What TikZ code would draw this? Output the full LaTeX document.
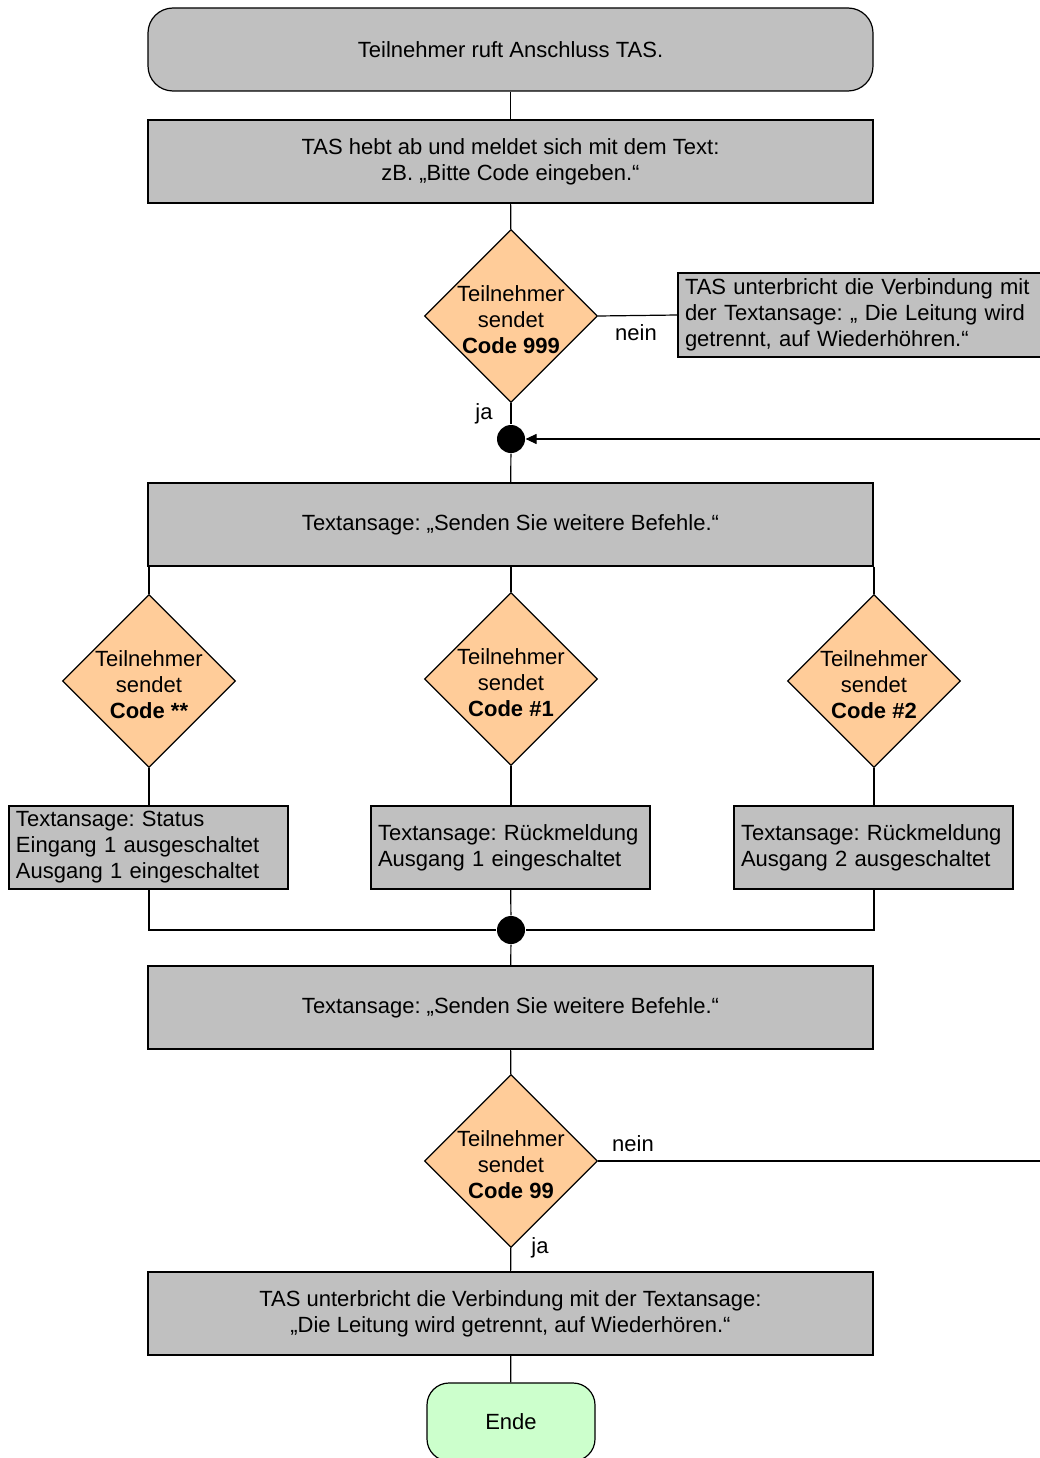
\documentclass[tikz,border=0pt]{standalone}
\usepackage{fontspec}
\setmainfont{Liberation Sans}
\usetikzlibrary{shapes.geometric,arrows.meta}
\definecolor{boxgray}{HTML}{C0C0C0}
\definecolor{dorange}{HTML}{FFCC99}
\definecolor{endgreen}{HTML}{CCFFCC}
\frenchspacing
\begin{document}
\begin{tikzpicture}[x=1pt,y=-1pt,
  font=\fontsize{22}{26}\selectfont\frenchspacing, line width=1.2pt,
  box/.style={draw, fill=boxgray, minimum width=725pt, minimum height=83pt, inner sep=0pt, align=center},
  sbox/.style={draw, fill=boxgray, text width=265pt, inner xsep=7pt, inner ysep=0pt, minimum height=83pt, align=left},
  dia/.style={draw, fill=dorange, diamond, minimum width=173pt, minimum height=173pt, inner sep=0pt},
  dlbl/.style={align=center, inner sep=0pt, yshift=-4pt},
  dot/.style={circle, fill=black, minimum size=28pt, inner sep=0pt},
  lbl/.style={inner sep=0pt}
]
\useasboundingbox (0,0) rectangle (1040,1458);
\clip (0,0) rectangle (1040,1458);

\node[box, rounded corners=25pt] (start) at (510.5,49.5) {Teilnehmer ruft Anschluss TAS.};
\node[box] (b2) at (510.5,161.5) {TAS hebt ab und meldet sich mit dem Text:\\zB. „Bitte Code eingeben.“};
\node[dia, label={[dlbl]center:Teilnehmer\\sendet\\\textbf{Code 999}}] (d1) at (511,316) {};
\node[draw, fill=boxgray, text width=353pt, inner xsep=7pt, inner ysep=0pt, minimum height=84pt, align=left] (note) at (861.5,315)
  {TAS unterbricht die Verbindung mit\\der Textansage: „ Die Leitung wird\\getrennt, auf Wiederhöhren.“};
\node[lbl] (nein1) at (636,333) {nein};
\node[lbl] (ja1) at (484,414) {ja};
\node[dot] (dot1) at (511,439) {};
\node[box] (b3) at (510.5,524.5) {Textansage: „Senden Sie weitere Befehle.“};

\node[dia, label={[dlbl]center:Teilnehmer\\sendet\\\textbf{Code **}}] (dl) at (149,681) {};
\node[dia, label={[dlbl]center:Teilnehmer\\sendet\\\textbf{Code \#1}}] (dm) at (511,679) {};
\node[dia, label={[dlbl]center:Teilnehmer\\sendet\\\textbf{Code \#2}}] (dr) at (874,681) {};

\node[sbox] (sl) at (148.5,847.5) {Textansage: Status\\Eingang 1 ausgeschaltet\\Ausgang 1 eingeschaltet};
\node[sbox] (sm) at (510.5,847.5) {Textansage: Rückmeldung\\Ausgang 1 eingeschaltet};
\node[sbox] (sr) at (873.5,847.5) {Textansage: Rückmeldung\\Ausgang 2 ausgeschaltet};

\node[dot] (dot2) at (511,930) {};
\node[box] (b4) at (510.5,1007.5) {Textansage: „Senden Sie weitere Befehle.“};
\node[dia, label={[dlbl]center:Teilnehmer\\sendet\\\textbf{Code 99}}] (d3) at (511,1161) {};
\node[lbl] (nein2) at (633,1144) {nein};
\node[lbl] (ja2) at (540,1248) {ja};
\node[box] (b5) at (510.5,1313.5) {TAS unterbricht die Verbindung mit der Textansage:\\„Die Leitung wird getrennt, auf Wiederhören.“};
\node[draw, fill=endgreen, rounded corners=22pt, minimum width=168pt, minimum height=78pt, inner sep=0pt] (ende) at (511,1422) {Ende};

\coordinate (r1) at (1060,1161);
\coordinate (r2) at (1060,439);

\draw (start) -- (b2);
\draw (b2) -- (d1);
\draw (d1.east) -- (note.west);
\draw (d1) -- (dot1);
\draw (dot1) -- (b3);
\draw (dl.north |- b3.south) -- (dl.north);
\draw (dm.north |- b3.south) -- (dm.north);
\draw (dr.north |- b3.south) -- (dr.north);
\draw (dl.south) -- (dl.south |- sl.north);
\draw (dm.south) -- (dm.south |- sm.north);
\draw (dr.south) -- (dr.south |- sr.north);
\draw (dl.south |- sl.south) -- (dl.south |- dot2) -- (dot2);
\draw (dr.south |- sr.south) -- (dr.south |- dot2) -- (dot2);
\draw (sm) -- (dot2);
\draw (dot2) -- (b4);
\draw (b4) -- (d3);
\draw (d3) -- (b5);
\draw (b5) -- (ende);
\draw[-{Triangle[length=11pt,width=10pt]}] (d3.east) -- (r1) -- (r2) -- (dot1);
\end{tikzpicture}
\end{document}
